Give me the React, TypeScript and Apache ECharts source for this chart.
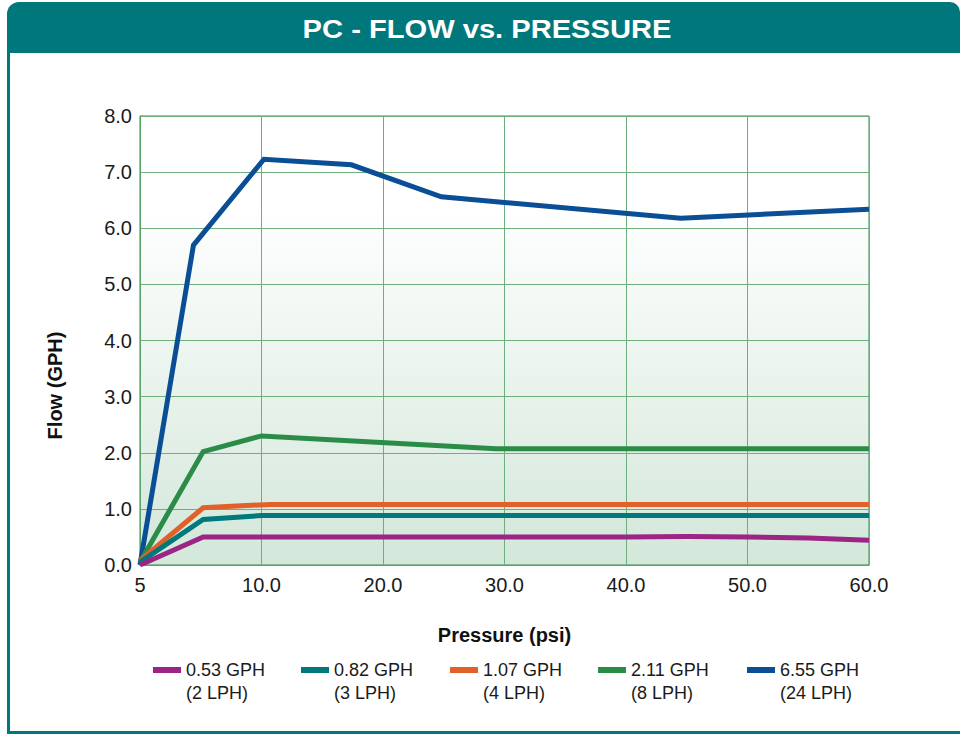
import React, { useEffect, useRef } from "react";
import * as echarts from "echarts";

const seriesNames = ["0.53 GPH (2 LPH)", "0.82 GPH (3 LPH)", "1.07 GPH (4 LPH)", "2.11 GPH (8 LPH)", "6.55 GPH (24 LPH)"];
const seriesColors = ["#9B2485", "#00787C", "#E0612A", "#2A8C47", "#0A4E96"];

const purple: number[][] = [[0, 0], [5.2, 0.5], [20, 0.5], [40, 0.5], [45, 0.51], [50, 0.5], [55, 0.48], [60, 0.44]];
const teal: number[][] = [[0, 0.05], [5.2, 0.81], [10, 0.88], [30, 0.88], [60, 0.88]];
const orange: number[][] = [[0, 0.08], [5.2, 1.02], [10.7, 1.08], [30, 1.08], [60, 1.08]];
const green: number[][] = [[0, 0.05], [5.2, 2.02], [10, 2.3], [29.3, 2.07], [60, 2.07]];
const blue: number[][] = [[0, 0], [4.4, 5.7], [10.2, 7.23], [17.4, 7.13], [24.8, 6.56], [44.5, 6.18], [60, 6.34]];

const seriesData = [purple, teal, orange, green, blue];

const xTicks = { min: 0, max: 60, interval: 10 };
const yTicks = { min: 0, max: 8, interval: 1 };

const title = "PC - FLOW vs. PRESSURE";
const xName = "Pressure (psi)";
const yName = "Flow (GPH)";

export default function App() {
  const ref = useRef<HTMLDivElement>(null);
  useEffect(() => {
    if (!ref.current) return;
    const chart = echarts.init(ref.current, undefined, { renderer: "svg" });
    const font = "'Liberation Sans', Arial, Helvetica, sans-serif";
    const legendLeft = [153, 301, 450, 598, 747];
    const option: any = {
      animation: false,
      backgroundColor: "#ffffff",
      textStyle: { fontFamily: font },
      graphic: [
        { type: "rect", shape: { x: 7, y: 2, width: 953, height: 51, r: [12, 10, 0, 0] }, style: { fill: "#00777B" }, z: 0 },
        { type: "rect", shape: { x: 7, y: 53, width: 3, height: 681 }, style: { fill: "#00777B" }, z: 0 },
        { type: "rect", shape: { x: 7, y: 731, width: 953, height: 3 }, style: { fill: "#00777B" }, z: 0 },
        {
          type: "text",
          x: 487,
          y: 29,
          scaleX: 1.12,
          style: { text: title, fill: "#ffffff", font: `bold 26px ${font}`, align: "center", verticalAlign: "middle" },
          z: 10,
        },
      ],
      grid: {
        left: 140,
        top: 116,
        right: 91,
        bottom: 169,
        show: true,
        borderColor: "#2E8B4A",
        borderWidth: 1,
        backgroundColor: {
          type: "linear",
          x: 0, y: 0, x2: 0, y2: 1,
          colorStops: [
            { offset: 0, color: "#ffffff" },
            { offset: 0.2, color: "#ffffff" },
            { offset: 1, color: "#d3e7da" },
          ],
        },
      },
      xAxis: {
        type: "value",
        min: xTicks.min,
        max: xTicks.max,
        interval: xTicks.interval,
        name: xName,
        nameLocation: "middle",
        nameGap: 60,
        nameTextStyle: { fontSize: 20, fontWeight: "bold", color: "#111", fontFamily: font },
        axisLine: { show: true, lineStyle: { color: "#5BA36C", width: 1 } },
        axisTick: { show: false },
        axisLabel: {
          fontSize: 20,
          color: "#1a1a1a",
          margin: 10,
          fontFamily: font,
          formatter: (v: number) => (v === 0 ? "5" : v.toFixed(1)),
        },
        splitLine: { show: true, lineStyle: { color: "#6FAF7E", width: 1 } },
      },
      yAxis: {
        type: "value",
        min: yTicks.min,
        max: yTicks.max,
        interval: yTicks.interval,
        name: yName,
        nameLocation: "middle",
        nameGap: 75,
        nameRotate: 90,
        nameTextStyle: { fontSize: 20, fontWeight: "bold", color: "#111", fontFamily: font, padding: [0, 90, 0, 0] },
        axisLine: { show: true, lineStyle: { color: "#5BA36C", width: 1 } },
        axisTick: { show: false },
        axisLabel: {
          fontSize: 20,
          color: "#1a1a1a",
          margin: 8,
          fontFamily: font,
          formatter: (v: number) => v.toFixed(1),
        },
        splitLine: { show: true, lineStyle: { color: "#6FAF7E", width: 1 } },
      },
      legend: seriesNames.map((n, i) => ({
        data: [n],
        left: legendLeft[i],
        top: 638,
        padding: 0,
        icon: "rect",
        itemWidth: 28,
        itemHeight: 6,
        itemGap: 0,
        selectedMode: false,
        formatter: (name: string) => {
          const idx = name.indexOf(" (");
          return "{e| }\n{a|" + name.slice(0, idx) + "}\n{a|" + name.slice(idx + 1) + "}";
        },
        textStyle: {
          fontFamily: font,
          fontSize: 18,
          color: "#1a1a1a",
          padding: [0, 0, 0, 0],
          rich: {
            e: { fontSize: 18, lineHeight: 23 },
            a: { fontSize: 18, lineHeight: 23, color: "#1a1a1a", fontFamily: font },
          },
        },
      })),
      series: seriesNames.map((n, i) => ({
        name: n,
        type: "line",
        data: seriesData[i],
        showSymbol: false,
        symbol: "none",
        z: 10 - i,
        lineStyle: { color: seriesColors[i], width: 5, join: "miter" },
        itemStyle: { color: seriesColors[i] },
      })),
    };
    chart.setOption(option);
    return () => chart.dispose();
  }, []);
  return <div ref={ref} style={{ position: "absolute", left: 0, top: 0, width: 960, height: 734 }} />;
}
